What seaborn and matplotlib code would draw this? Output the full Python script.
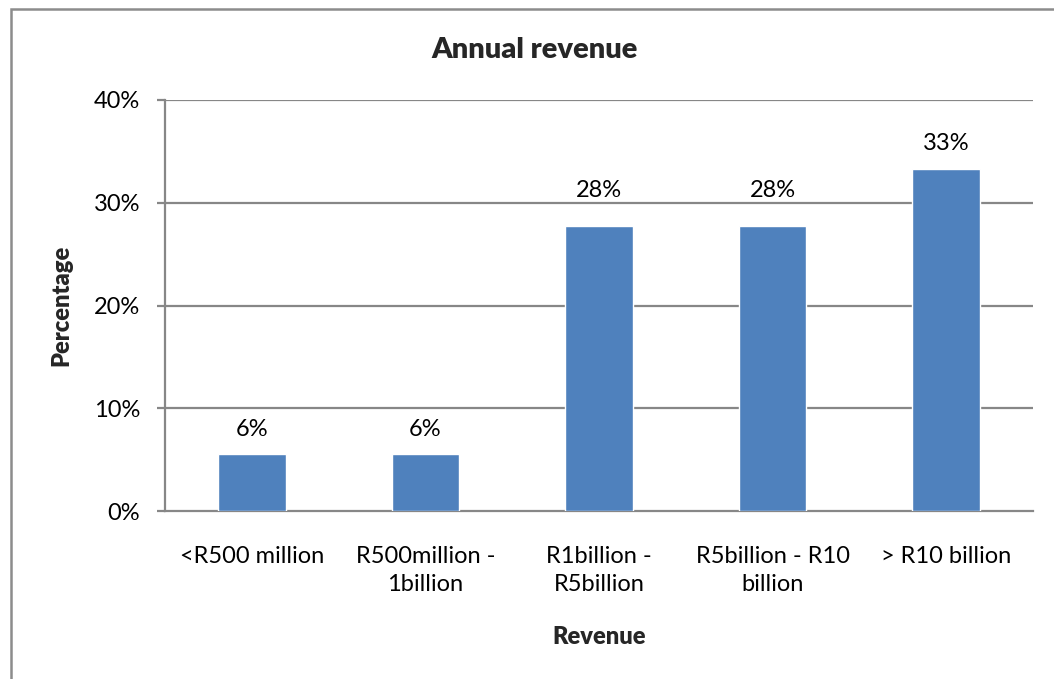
import matplotlib
matplotlib.use("Agg")
import matplotlib.pyplot as plt
from matplotlib.patches import Rectangle
import seaborn as sns
import pandas as pd

categories = ["<R500 million", "R500million -\n1billion", "R1billion -\nR5billion",
              "R5billion - R10\nbillion", "> R10 billion"]
shares = [1 / 18, 1 / 18, 5 / 18, 5 / 18, 6 / 18]
yticks = [0.0, 0.1, 0.2, 0.3, 0.4]
ytick_labels = ["0%", "10%", "20%", "30%", "40%"]

sns.set_theme(style="white")
plt.rcParams["font.family"] = ["Lato", "DejaVu Sans"]

W, H = 1054, 679
fig = plt.figure(figsize=(W / 100, H / 100), dpi=100)
ax = fig.add_axes([165 / W, 1 - 511 / H, (1033 - 165) / W, (511 - 100) / H])

df = pd.DataFrame({"Revenue": categories, "Percentage": shares})
sns.barplot(data=df, x="Revenue", y="Percentage", color="#4F81BD", width=0.39,
            saturation=1, ax=ax, zorder=3)

grid_col = "#878787"
ax.set_ylim(0, 0.4)
ax.set_xlim(-0.5, len(categories) - 0.5)
ax.set_yticks(yticks)
ax.set_yticklabels(ytick_labels, fontsize=17, color="black")
for y in yticks[1:]:
    ax.axhline(y, color=grid_col, lw=1.6, zorder=1)

ax.set_xticks(range(len(categories)))
ax.set_xticklabels(categories, fontsize=17, color="black", linespacing=1.45)
ax.set_xticks([i - 0.5 for i in range(len(categories) + 1)], minor=True)
ax.tick_params(axis="x", which="major", length=0, pad=25)
ax.tick_params(axis="x", which="minor", length=6, width=1.6, color=grid_col, direction="out")
ax.tick_params(axis="y", length=6, width=1.6, color=grid_col, direction="out", pad=12, left=True)

for side in ["top", "right"]:
    ax.spines[side].set_visible(False)
for side in ["left", "bottom"]:
    ax.spines[side].set_color(grid_col)
    ax.spines[side].set_linewidth(1.6)

# value labels sit above each bar; a label that would cross a gridline
# is lifted to rest just above that gridline
px_per_unit = (511 - 100) / 0.4
gap, text_h = 18, 18
for i, v in enumerate(shares):
    base = v * px_per_unit + gap
    for g in yticks[1:]:
        gy = g * px_per_unit
        if base - 3 <= gy <= base + text_h:
            base = gy + 6
    ax.annotate(f"{v * 100:.0f}%", (i, 0), xytext=(0, base * 0.72), textcoords="offset points",
                ha="center", va="baseline", fontsize=17, color="black")

ax.set_xlabel("Revenue", fontsize=17, fontweight=800, labelpad=22)
ax.set_ylabel("Percentage", fontsize=17, fontweight=800, labelpad=15)
fig.text(535 / W, 1 - 50 / H, "Annual revenue", ha="center", va="center",
         fontsize=21, fontweight=800)

fig.patches.append(Rectangle((11 / W, -0.1), 1.2, 1 - 9 / H + 0.1, transform=fig.transFigure,
                             fill=False, edgecolor="#8c8c8c", lw=1.8))

fig.savefig("out.png", dpi=100, facecolor="white")
